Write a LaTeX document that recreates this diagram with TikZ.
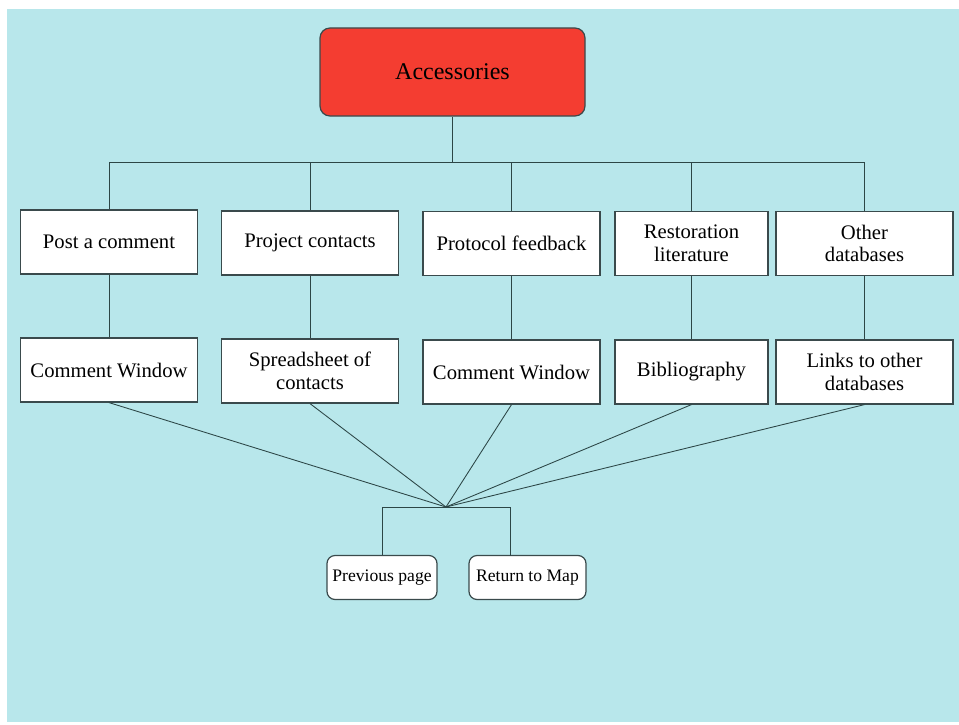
\documentclass[tikz,border=0pt]{standalone}
\usepackage{fontspec}
\setmainfont{Liberation Serif}
\definecolor{bgcyan}{HTML}{B8E7EB}
\definecolor{headred}{HTML}{F43D31}
\definecolor{linecol}{HTML}{2C4646}
\definecolor{edgecol}{HTML}{3A4A4C}
\begin{document}
\begin{tikzpicture}[x=0.75pt,y=-0.75pt,
  box/.style={draw=edgecol,line width=0.9pt,fill=white,align=center,
    minimum height=48pt,inner sep=2pt,font=\fontsize{15.5}{17}\selectfont},
  wide/.style={box,minimum width=132.75pt},
  narrow/.style={box,minimum width=114.75pt},
  head/.style={draw=edgecol,line width=0.9pt,fill=headred,rounded corners=7.5pt,
    minimum width=198.75pt,minimum height=66pt,font=\fontsize{18}{20}\selectfont},
  navbtn/.style={draw=edgecol,line width=0.9pt,fill=white,rounded corners=6pt,
    minimum height=33pt,inner sep=1pt,font=\fontsize{13.2}{15}\selectfont},
  link/.style={draw=linecol,line width=0.65pt}]
\useasboundingbox (0,0) rectangle (959,724);
\fill[white] (0,0) rectangle (959,724);
\fill[bgcyan] (7,9) rectangle (959,722);

% top node
\node[head] (acc) at (452.5,72) {Accessories};

% first row
\node[wide]   (p1) at (109,242)   {Post a comment};
\node[wide]   (p2) at (310,243)   {Project contacts};
\node[wide]   (p3) at (511.5,243.5) {Protocol feedback};
\node[narrow] (p4) at (691.5,243.5) {Restoration\\literature};
\node[wide]   (p5) at (864.5,243.5) {Other\\databases};

% second row
\node[wide]   (c1) at (109,370)   {Comment Window};
\node[wide]   (c2) at (310,371)   {Spreadsheet of\\contacts};
\node[wide]   (c3) at (511.5,372) {Comment Window};
\node[narrow] (c4) at (691.5,372) {Bibliography};
\node[wide]   (c5) at (864.5,372) {Links to other\\databases};

% navigation buttons
\node[navbtn,minimum width=82.5pt] (prev) at (382,577.5) {Previous page};
\node[navbtn,minimum width=87.75pt] (ret) at (527.5,577.5) {Return to Map};

% junctions
\coordinate (bus) at (452.5,162);
\coordinate (hub) at (446,507);
\coordinate (brl) at (382,507);
\coordinate (brr) at (510,507);
\coordinate (retin) at (510,556);

% tree from the top node to the first row
\draw[link] (acc.south) -- (bus);
\foreach \n in {p1,p2,p3,p4,p5}
  \draw[link] (\n.north) |- (bus);

% first row to second row
\foreach \a/\b in {p1/c1,p2/c2,p3/c3,p4/c4,p5/c5}
  \draw[link] (\a.south) -- (\b.north);

% second row converging on the hub
\foreach \n in {c1,c2,c3,c4,c5}
  \draw[link] (\n.south) -- (hub);

% bracket to the navigation buttons
\draw[link] (prev.north) -- (brl) -- (brr) -- (retin);
\end{tikzpicture}
\end{document}
